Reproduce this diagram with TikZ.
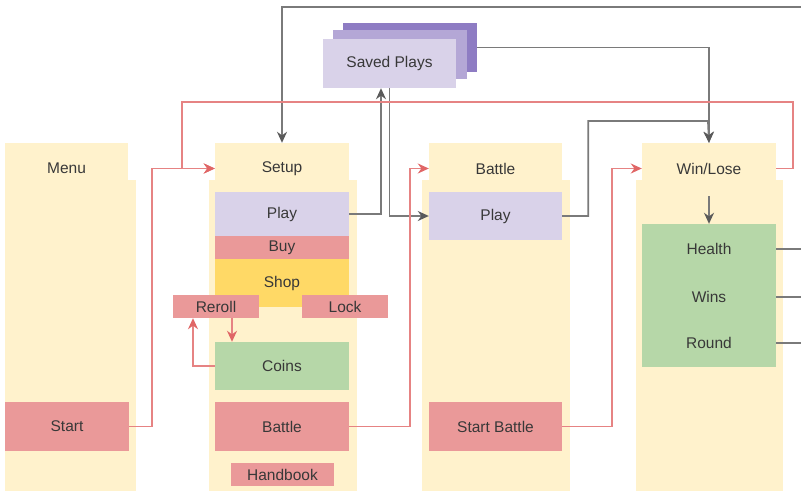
\documentclass[tikz,border=0pt]{standalone}
\usepackage{fontspec}
\setmainfont{Liberation Sans}
\usetikzlibrary{arrows.meta}
\definecolor{colfill}{HTML}{FFF2CC}
\definecolor{playfill}{HTML}{D9D2E9}
\definecolor{redfill}{HTML}{EA9999}
\definecolor{shopfill}{HTML}{FFD966}
\definecolor{greenfill}{HTML}{B6D7A8}
\definecolor{savemid}{HTML}{B4A7D6}
\definecolor{saveback}{HTML}{8E7CC3}
\definecolor{redline}{HTML}{E68383}
\definecolor{redtip}{HTML}{E06666}
\definecolor{grayline}{HTML}{7A7A7A}
\definecolor{graytip}{HTML}{5A5A5A}
\definecolor{txt}{HTML}{383838}
\begin{document}
\begin{tikzpicture}[x=1pt,y=-1pt,
  box/.style={inner sep=0pt,text=txt,font=\fontsize{15.5}{18}\selectfont},
  redarr/.style={draw=redline,line width=1.8pt,-{Stealth[length=11pt,width=10pt,color=redtip]}},
  redln/.style={draw=redline,line width=1.8pt},
  grayarr/.style={draw=grayline,line width=1.8pt,-{Stealth[length=11pt,width=10pt,color=graytip]}},
  grayln/.style={draw=grayline,line width=1.8pt}]
\useasboundingbox (0,0) rectangle (801,491);
% Columns (screens)
\node[box,fill=colfill,minimum width=131,minimum height=311] (menubody) at (70.5,335.5) {};
\node[box,fill=colfill,minimum width=123,minimum height=51] (menuhead) at (66.5,168.5) {Menu};
\node[box,fill=colfill,minimum width=148,minimum height=311] (setbody) at (283,335.5) {};
\node[box,fill=colfill,minimum width=134,minimum height=51] (sethead) at (282,168.5) {Setup};
\node[box,fill=colfill,minimum width=148,minimum height=311] (batbody) at (496,335.5) {};
\node[box,fill=colfill,minimum width=133,minimum height=51] (bathead) at (495.5,168.5) {Battle};
\node[box,fill=colfill,minimum width=147,minimum height=311] (wlbody) at (709.5,335.5) {};
\node[box,fill=colfill,minimum width=134,minimum height=51] (wlhead) at (709,168.5) {Win/Lose};

% Saved plays (stack)
\node[box,fill=saveback,minimum width=134,minimum height=49] (saveback) at (410,47.5) {};
\node[box,fill=savemid,minimum width=134,minimum height=49] (savemid) at (400,54.5) {};
\node[box,fill=playfill,minimum width=133,minimum height=49] (savefront) at (389.5,63.5) {Saved Plays};

% Nodes (buttons and panels)
\node[box,fill=redfill,minimum width=124,minimum height=49] (start) at (67,426.5) {Start};
\node[box,fill=playfill,minimum width=134,minimum height=44] (splay) at (282,214) {Play};
\node[box,fill=redfill,minimum width=134,minimum height=23] (buy) at (282,247.5) {Buy};
\node[box,fill=shopfill,minimum width=134,minimum height=48] (shop) at (282,283) {Shop};
\node[box,fill=redfill,minimum width=86,minimum height=23] (reroll) at (216,306.5) {Reroll};
\node[box,fill=redfill,minimum width=86,minimum height=23] (lock) at (345,306.5) {Lock};
\node[box,fill=greenfill,minimum width=134,minimum height=48] (coins) at (282,366) {Coins};
\node[box,fill=redfill,minimum width=134,minimum height=49] (sbattle) at (282,426.5) {Battle};
\node[box,fill=redfill,minimum width=103,minimum height=23] (handbook) at (282.5,474.5) {Handbook};
\node[box,fill=playfill,minimum width=133,minimum height=48] (bplay) at (495.5,216) {Play};
\node[box,fill=redfill,minimum width=133,minimum height=49] (startb) at (495.5,426.5) {Start Battle};
\node[box,fill=greenfill,minimum width=134,minimum height=143] (wlbox) at (709,295.5) {};
\node[box] (health) at (709,249) {Health};
\node[box] (wins) at (709,297) {Wins};
\node[box] (round) at (709,343) {Round};

% Free ends at the right edge
\coordinate (topin) at (801,7);
\coordinate (hout) at (801,249);
\coordinate (wout) at (801,297);
\coordinate (rout) at (801,343);

% Edges (gray: plays)
\draw[grayarr] (topin) -| (sethead.north);
\draw[grayarr] (saveback.east) -| (wlhead.north);
\draw[grayarr] (bplay.east) -- ++(26,0) |- (708,121) -- (wlhead.north);
\draw[grayarr] (splay.east) -| ([xshift=-8.5pt]savefront.south);
\draw[grayarr] (savefront.south) |- (bplay.west);
\draw[grayarr] ([yshift=-2pt]wlhead.south) -- (wlbox.north);
\draw[grayln] (wlbox.east |- health) -- (hout);
\draw[grayln] (wlbox.east |- wins) -- (wout);
\draw[grayln] (wlbox.east |- round) -- (rout);

% Edges (red: buttons)
\draw[redarr] (start.east) -- ++(23,0) |- (sethead.west);
\draw[redarr] (wlhead.east) -- ++(17,0) -- ++(0,-66.5) -| (182,168.5) -- (sethead.west);
\draw[redarr] (sbattle.east) -- ++(61,0) |- (bathead.west);
\draw[redarr] (startb.east) -- ++(50,0) |- (wlhead.west);
\draw[redarr] ([xshift=16pt]reroll.south) -- ([xshift=16pt]reroll.south |- coins.north);
\draw[redarr] (coins.west) -| ([xshift=-23pt]reroll.south);
\end{tikzpicture}
\end{document}
